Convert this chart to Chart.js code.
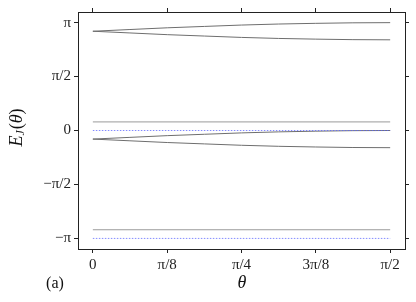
<!DOCTYPE html>
<html>
<head>
<meta charset="utf-8">
<script src="https://cdn.jsdelivr.net/npm/chart.js@4.4.1/dist/chart.umd.min.js"></script>
<style>
    html, body { margin: 0; padding: 0; background: #fff; }
    canvas { display: block; }
</style>
</head>
<body>
<canvas id="levelsChart" width="416" height="302"></canvas>
<script>
// theta samples (0 .. pi/2, step pi/16)
const theta = [0, 0.196, 0.393, 0.589, 0.785, 0.982, 1.178, 1.374, 1.571];

// split pair near pi
const topUpper = [2.89, 2.94, 2.99, 3.03, 3.07, 3.10, 3.12, 3.135, 3.14];
const topLower = [2.89, 2.84, 2.79, 2.75, 2.71, 2.68, 2.66, 2.645, 2.64];

// split pair near 0
const midUpper = [-0.25, -0.20, -0.15, -0.11, -0.07, -0.04, -0.02, -0.005, 0];
const midLower = [-0.25, -0.30, -0.35, -0.39, -0.43, -0.46, -0.48, -0.495, -0.5];

// flat levels
const flatGray = [0.25, -2.89];
const flatBlue = [0, -3.1416];

const xTickValues = [0, 0.3927, 0.7854, 1.1781, 1.5708];
const xTickLabels = ['0', 'π/8', 'π/4', '3π/8', 'π/2'];
const yTickValues = [-3.1416, -1.5708, 0, 1.5708, 3.1416];
const yTickLabels = ['−π', '−π/2', '0', 'π/2', 'π'];

const X_MIN = -0.0785, X_MAX = 1.6493;
const Y_MIN = -3.45, Y_MAX = 3.45;

const serif = '"Liberation Serif", "DejaVu Serif", serif';
const axisColor = '#222';

function curve(ys) {
    return ys.map((y, i) => ({ x: theta[i], y: y }));
}
function flat(y) {
    return [{ x: theta[0], y: y }, { x: theta[theta.length - 1], y: y }];
}

const datasets = [];
flatGray.forEach(v => datasets.push({
    data: flat(v), borderColor: '#9a9a9a', borderWidth: 1
}));
flatBlue.forEach(v => datasets.push({
    data: flat(v), borderColor: 'rgba(90,100,255,0.75)', borderWidth: 1, borderDash: [1.5, 1.5]
}));
[topUpper, topLower, midUpper, midLower].forEach(ys => datasets.push({
    data: curve(ys), borderColor: '#6e6e6e', borderWidth: 1, cubicInterpolationMode: 'monotone'
}));

function setTicks(values) {
    return scale => { scale.ticks = values.map(v => ({ value: v })); };
}

function axisBase(size) {
    return {
        type: 'linear',
        border: { display: true, color: axisColor, width: 1 },
        grid: { drawOnChartArea: false, drawTicks: true, tickLength: 4, color: axisColor, tickColor: axisColor },
        afterFit: size
    };
}

const labelsPlugin = {
    id: 'labels',
    afterDraw(chart) {
        const ctx = chart.ctx;
        ctx.save();
        ctx.fillStyle = '#111';
        ctx.textBaseline = 'middle';
        ctx.textAlign = 'center';

        // x label
        ctx.font = 'italic 18px ' + serif;
        ctx.fillText('θ', 242, 283);

        // panel tag
        ctx.font = '16px ' + serif;
        ctx.fillText('(a)', 55, 284);

        // y label E_J(θ), rotated
        ctx.translate(17, 128);
        ctx.rotate(-Math.PI / 2);
        const parts = [
            { t: 'E', f: 'italic 18px ' + serif, dy: 0 },
            { t: 'J', f: 'italic 12px ' + serif, dy: 4 },
            { t: '(', f: '18px ' + serif, dy: 0 },
            { t: 'θ', f: 'italic 18px ' + serif, dy: 0 },
            { t: ')', f: '18px ' + serif, dy: 0 }
        ];
        let total = 0;
        parts.forEach(p => { ctx.font = p.f; p.w = ctx.measureText(p.t).width; total += p.w; });
        let x = -total / 2;
        ctx.textAlign = 'left';
        parts.forEach(p => {
            ctx.font = p.f;
            ctx.fillText(p.t, x, p.dy);
            x += p.w + (p.t === 'J' ? 1 : 0);
        });
        ctx.restore();
    }
};

new Chart(document.getElementById('levelsChart'), {
    type: 'line',
    data: { datasets: datasets },
    options: {
        responsive: false,
        animation: false,
        devicePixelRatio: 1,
        layout: { padding: 0 },
        elements: { point: { radius: 0 }, line: { fill: false } },
        plugins: { legend: { display: false }, tooltip: { enabled: false } },
        scales: {
            x: {
                ...axisBase(s => { s.height = 53; }),
                position: 'bottom',
                min: X_MIN, max: X_MAX,
                afterBuildTicks: setTicks(xTickValues),
                ticks: {
                    padding: 3, color: axisColor,
                    font: { family: serif, size: 15 },
                    callback: (v, i) => xTickLabels[i]
                }
            },
            x2: {
                ...axisBase(s => { s.height = 10; }),
                position: 'top',
                min: X_MIN, max: X_MAX,
                afterBuildTicks: setTicks(xTickValues),
                ticks: { display: false }
            },
            y: {
                ...axisBase(s => { s.width = 78; }),
                position: 'left',
                min: Y_MIN, max: Y_MAX,
                afterBuildTicks: setTicks(yTickValues),
                ticks: {
                    padding: 3, color: axisColor,
                    font: { family: serif, size: 15 },
                    callback: (v, i) => yTickLabels[i]
                }
            },
            y2: {
                ...axisBase(s => { s.width = 11; }),
                position: 'right',
                min: Y_MIN, max: Y_MAX,
                afterBuildTicks: setTicks(yTickValues),
                ticks: { display: false }
            }
        }
    },
    plugins: [labelsPlugin]
});
</script>
</body>
</html>
